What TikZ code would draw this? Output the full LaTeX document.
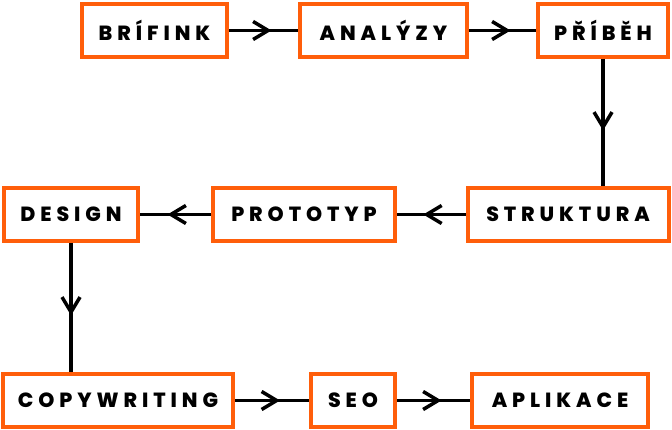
\documentclass[tikz,border=0pt]{standalone}
\usepackage{fontspec}
\usepackage{tikz}
\usetikzlibrary{arrows.meta,decorations.markings}
\newfontfamily\stepfont{Poppins}[BoldFont={* ExtraBold}, LetterSpace=24]
\definecolor{boxorange}{HTML}{FF5E0A}

\begin{document}
\begin{tikzpicture}[x=1pt, y=-1pt,
  box/.style={draw=boxorange, line width=4pt, minimum height=53pt, inner sep=0pt,
    font=\stepfont\bfseries\fontsize{20.5pt}{20.5pt}\selectfont},
  link/.style={line width=3.5pt, postaction={decorate}, decoration={markings,
    mark=at position 0.5 with {\arrow[xshift=8pt]{Straight Barb[length=15pt, width=18pt]}}}}]
  \useasboundingbox (0,0) rectangle (672,430);
  % top row
  \node[box, minimum width=145pt] (brifink) at (154.5,30.5) {BRÍFINK};
  \node[box, minimum width=167pt] (analyzy) at (383.5,30.5) {ANALÝZY};
  \node[box, minimum width=130pt] (pribeh) at (603,30.5) {PŘÍBĚH};
  % middle row
  \node[box, minimum width=201pt] (struktura) at (568,214.5) {STRUKTURA};
  \node[box, minimum width=182pt] (prototyp) at (304,214.5) {PROTOTYP};
  \node[box, minimum width=134pt] (design) at (71,214.5) {DESIGN};
  % bottom row
  \node[box, minimum width=230pt] (copywriting) at (118,400.5) {COPYWRITING};
  \node[box, minimum width=84pt] (seo) at (353,400.5) {SEO};
  \node[box, minimum width=176pt] (aplikace) at (560,400.5) {APLIKACE};
  % connectors
  \draw[link] (brifink.east) -- (analyzy.west);
  \draw[link] (analyzy.east) -- (pribeh.west);
  \draw[link] (pribeh.south) -- (pribeh.south |- struktura.north);
  \draw[link] (struktura.west) -- (prototyp.east);
  \draw[link] (prototyp.west) -- (design.east);
  \draw[link] (design.south) -- (design.south |- copywriting.north);
  \draw[link] (copywriting.east) -- (seo.west);
  \draw[link] (seo.east) -- (aplikace.west);
\end{tikzpicture}
\end{document}
